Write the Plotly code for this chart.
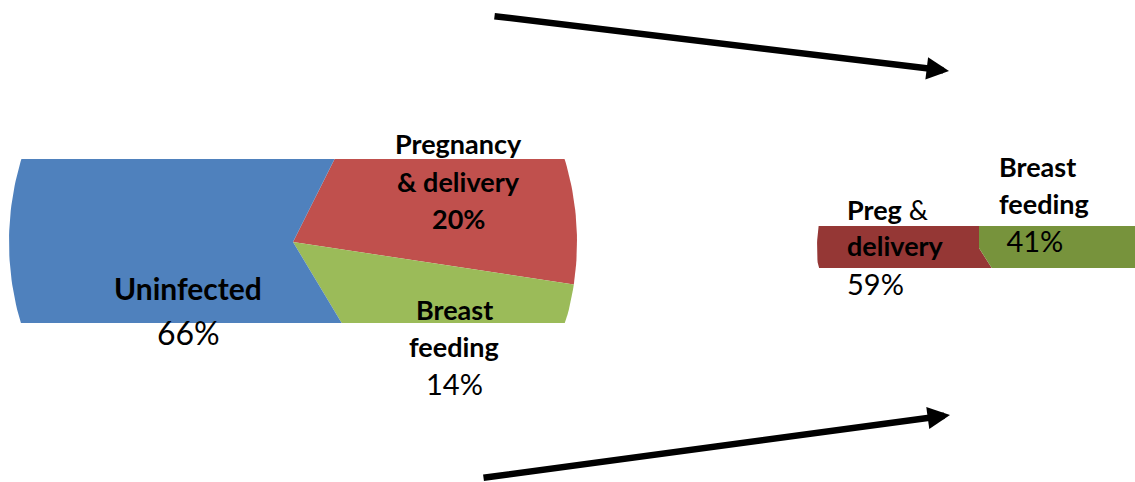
import math
import plotly.graph_objects as go

W, H = 1135, 482

# left pie: everyone
left_labels = ["Pregnancy & delivery", "Breast feeding", "Uninfected"]
left_values = [20, 14, 66]
left_colors = ["#C0504D", "#9BBB59", "#4F81BD"]
left_text = [["<b>Pregnancy</b>", "<b>& delivery</b>", "<b>20%</b>"],
             ["<b>Breast</b>", "<b>feeding</b>", "14%"],
             ["<b>Uninfected</b>", "66%"]]

# right pie: infected only
right_labels = ["Preg & delivery", "Breast feeding"]
right_values = [59, 41]
right_colors = ["#953735", "#77933C"]
right_text = [["<b>Preg</b> &", "<b>delivery</b>", "59%"],
              ["<b>Breast</b>", "<b>feeding</b>", " 41%"]]


def wedges(values, cx, cy, r, start, sign):
    # angles clockwise from 12 o'clock, pixel coords with y pointing down
    total = sum(values)
    out = []
    a = start
    for v in values:
        span = 360.0 * v / total
        n = max(int(span), 8)
        xs, ys = [cx], [cy]
        for i in range(n + 1):
            t = math.radians(a + sign * span * i / n)
            xs.append(cx + r * math.sin(t))
            ys.append(cy - r * math.cos(t))
        xs.append(cx)
        ys.append(cy)
        out.append((xs, ys))
        a += sign * span
    return out


fig = go.Figure()

for (xs, ys), lab, val, col in zip(wedges(left_values, 293, 242, 284, 26.6, 1),
                                   left_labels, left_values, left_colors):
    fig.add_trace(go.Scatter(x=xs, y=ys, fill="toself", fillcolor=col, mode="lines",
                             line=dict(width=0, color=col), name=lab,
                             hovertemplate=f"{lab}: {val}%<extra></extra>",
                             xaxis="x", yaxis="y"))

for (xs, ys), lab, val, col in zip(wedges(right_values, 979, 248, 162, 0, -1),
                                   right_labels, right_values, right_colors):
    fig.add_trace(go.Scatter(x=xs, y=ys, fill="toself", fillcolor=col, mode="lines",
                             line=dict(width=0, color=col), name=lab,
                             hovertemplate=f"{lab}: {val}%<extra></extra>",
                             xaxis="x2", yaxis="y2"))


def px(x, y):
    return x / W, 1 - y / H


FONT = "Lato"
annotations = []


def add_lines(lines, x, y0, step, size, anchor="center"):
    for i, ln in enumerate(lines):
        ax_, ay_ = px(x, y0 + i * step)
        s = size + 2 if "%" in ln and "<b>" not in ln else size
        annotations.append(dict(text=ln, x=ax_, y=ay_, xref="paper", yref="paper",
                                xanchor=anchor, yanchor="middle", showarrow=False,
                                font=dict(family=FONT, size=s, color="black")))


add_lines(left_text[0], 458, 143, 38, 27)
add_lines(left_text[1], 454, 309, 37, 27)
add_lines(left_text[2], 188, 288, 44, 30)
add_lines(right_text[0], 845, 209, 37, 27, "left")
add_lines(right_text[1], 997, 166, 37, 27, "left")

# the two arrows
for tail, tip in [((493, 16), (949, 71)), ((482, 478), (950, 415))]:
    x, y = px(*tip)
    annotations.append(dict(text="", x=x, y=y, xref="paper", yref="paper",
                            ax=tail[0] - tip[0], ay=tail[1] - tip[1], showarrow=True,
                            arrowhead=2, arrowwidth=6.5, arrowsize=0.69, arrowcolor="black"))

hidden = dict(visible=False, fixedrange=True, showgrid=False, zeroline=False)
fig.update_layout(
    width=W, height=H,
    margin=dict(l=0, r=0, t=0, b=0, pad=0),
    paper_bgcolor="white", plot_bgcolor="rgba(0,0,0,0)",
    showlegend=False,
    xaxis=dict(domain=[0, 1], range=[0, W], **hidden),
    yaxis=dict(domain=[1 - 323 / H, 1 - 159 / H], range=[323, 159], **hidden),
    xaxis2=dict(domain=[0, 1], range=[0, W], anchor="y2", **hidden),
    yaxis2=dict(domain=[1 - 268 / H, 1 - 226 / H], range=[268, 226], anchor="x2", **hidden),
    annotations=annotations,
)

fig.write_html("out.html", config={"displayModeBar": False},
               post_script="document.body.style.margin='0';")
